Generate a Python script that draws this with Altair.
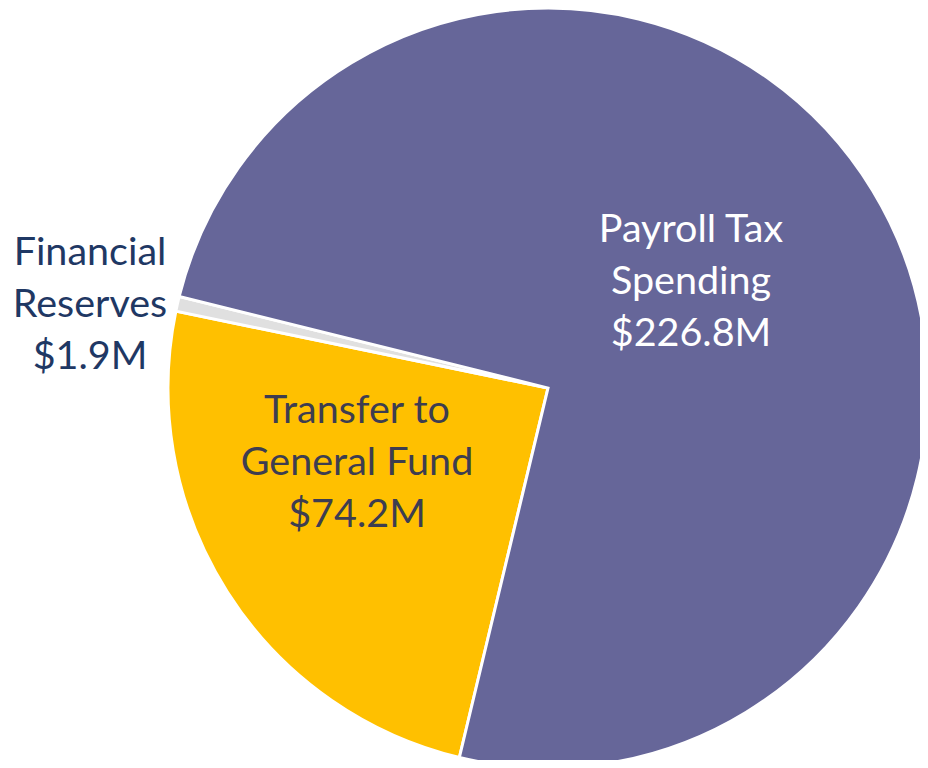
import altair as alt
import pandas as pd

categories = ["Transfer to General Fund", "Financial Reserves", "Payroll Tax Spending"]
values = [74.2, 1.9, 226.8]
colors = ["#FFC000", "#E0E0E0", "#666699"]
order = [0, 1, 2]

df = pd.DataFrame({"category": categories, "value": values, "order": order})

start = 3.377  # radians, clockwise from 12 o'clock
full = 6.283185307

cx, cy, R = 540, 380, 380

pie = alt.Chart(df).mark_arc(outerRadius=R, stroke="white", strokeWidth=3).encode(
    theta=alt.Theta("value:Q", stack=True, scale=alt.Scale(range=[start, start + full])),
    order=alt.Order("order:Q"),
    color=alt.Color("category:N", scale=alt.Scale(domain=categories, range=colors), legend=None),
    x=alt.value(cx),
    y=alt.value(cy),
)

font = "Lato"
fs = 39.5
lh = 52

def label(text, x, y, color):
    return alt.Chart(pd.DataFrame({"t": [text]})).mark_text(
        font=font, fontSize=fs, lineHeight=lh, align="center", baseline="alphabetic",
        lineBreak="\n", color=color,
    ).encode(text="t:N", x=alt.value(x), y=alt.value(y))

lbl_payroll = label("Payroll Tax\nSpending\n$226.8M", 691 - 8, 242 - 8, "white")
lbl_transfer = label("Transfer to\nGeneral Fund\n$74.2M", 357 - 8, 423 - 8, "#3D3D50")
lbl_reserve = label("Financial\nReserves\n$1.9M", 90 - 8, 265 - 8, "#1F3864")

chart = alt.layer(pie, lbl_payroll, lbl_transfer, lbl_reserve).properties(
    width=912, height=752, autosize=alt.AutoSizeParams(type="none"), padding=0
).configure_view(stroke=None)

chart.save("out.html", embed_options={"renderer": "svg", "actions": False})
